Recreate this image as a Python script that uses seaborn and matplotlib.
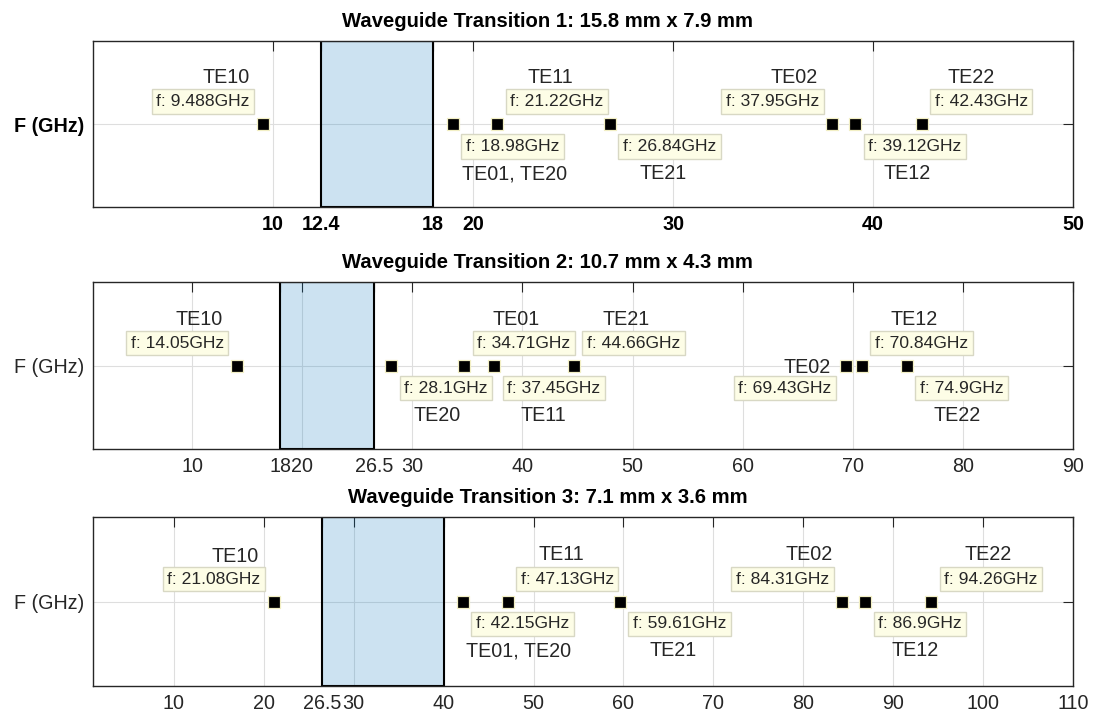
import numpy as np
import seaborn as sns
import matplotlib.pyplot as plt

# cutoff frequencies (GHz) and mode names for each waveguide
titles = ['Waveguide Transition 1: 15.8 mm x 7.9 mm',
          'Waveguide Transition 2: 10.7 mm x 4.3 mm',
          'Waveguide Transition 3: 7.1 mm x 3.6 mm']

freqs_1 = [9.488, 18.98, 21.22, 26.84, 37.95, 39.12, 42.43]
modes_1 = ['TE10', 'TE01, TE20', 'TE11', 'TE21', 'TE02', 'TE12', 'TE22']

freqs_2 = [14.05, 28.1, 34.71, 37.45, 44.66, 69.43, 70.84, 74.9]
modes_2 = ['TE10', 'TE20', 'TE01', 'TE11', 'TE21', 'TE02', 'TE12', 'TE22']

freqs_3 = [21.08, 42.15, 47.13, 59.61, 84.31, 86.9, 94.26]
modes_3 = ['TE10', 'TE01, TE20', 'TE11', 'TE21', 'TE02', 'TE12', 'TE22']

# operating band of each waveguide (GHz)
bands = [(12.4, 18), (18, 26.5), (26.5, 40)]
x_max = [50, 90, 110]

xticks_1 = [10, 12.4, 18, 20, 30, 40, 50]
xticks_2 = [10, 18, 20, 26.5, 30, 40, 50, 60, 70, 80, 90]
xticks_3 = [10, 20, 26.5, 30, 40, 50, 60, 70, 80, 90, 100, 110]

# --- layout of the datatips / labels (pixels relative to the marker) ---
tips_1 = ['ul', 'dr', 'ur', 'dr', 'ul', 'dr', 'ur']
tips_2 = ['ul', 'dr', 'ur', 'dr', 'ur', 'dl', 'ur', 'dr']
tips_3 = ['ul', 'dr', 'ur', 'dr', 'ul', 'dr', 'ur']

lab_1 = [(-37, 41), (62, -55), (53, 41), (53, -55), (-38, 41), (52, -55), (50, 41)]
lab_2 = [(-38, 41), (46, -55), (52, 41), (49, -55), (52, 41), (-39, -7), (52, 41), (50, -55)]
lab_3 = [(-38, 39), (56, -55), (54, 41), (53, -55), (-33, 41), (50, -55), (57, 41)]

tip_offsets = {'ul': ((-13, 15), 'right', 'bottom'),
               'ur': ((13, 15), 'left', 'bottom'),
               'dr': ((13, -15), 'left', 'top'),
               'dl': ((-15, -15), 'right', 'top')}

sns.set_style('white')
plt.rcParams['font.family'] = ['Liberation Sans', 'DejaVu Sans']

dark = '#262626'
fig = plt.figure(figsize=(10.95, 7.24), dpi=100)
W, H = 1095, 724
left, right = 93, 1073
rows = [(41, 207), (282, 449), (517, 686)]

data = [(freqs_1, modes_1, xticks_1, tips_1, lab_1),
        (freqs_2, modes_2, xticks_2, tips_2, lab_2),
        (freqs_3, modes_3, xticks_3, tips_3, lab_3)]

for i, (freqs, modes, xticks, tips, labs) in enumerate(data):
    top, bot = rows[i]
    ax = fig.add_axes([left / W, 1 - bot / H, (right - left) / W, (bot - top) / H])

    ax.axvspan(bands[i][0], bands[i][1], ymin=0, ymax=1,
               facecolor=(0, 0.447, 0.741, 0.2), edgecolor='black', lw=1.5, zorder=1.5)

    sns.scatterplot(x=freqs, y=np.zeros(len(freqs)), marker='s', s=78,
                    color='black', edgecolor='#f2efc4', linewidth=0.9, zorder=3, ax=ax)

    for f, m, t, (lx, ly) in zip(freqs, modes, tips, labs):
        (dx, dy), ha, va = tip_offsets[t]
        ax.annotate(f'f: {f:g}GHz', xy=(f, 0), xytext=(dx, dy), textcoords='offset pixels',
                    ha=ha, va=va, fontsize=12.6, color=dark, zorder=6,
                    bbox=dict(boxstyle='square,pad=0.26', fc='#fdfde6', ec='#d8d8c4', lw=1))
        ax.annotate(m, xy=(f, 0), xytext=(lx, ly), textcoords='offset pixels',
                    ha='center', va='baseline', fontsize=14.2, color=dark, zorder=5)

    ax.set_xlim(1, x_max[i])
    ax.set_ylim(-1, 1)
    ax.set_xticks(xticks)
    ax.set_xticklabels([f'{v:g}' for v in xticks])
    ax.set_yticks([0])
    ax.set_yticklabels(['F (GHz)'])
    ax.tick_params(direction='in', top=True, right=True, length=7, width=0.8,
                   color=dark, labelcolor=dark, labelsize=14.2, pad=6)
    ax.grid(True, color='#dedede', lw=0.8)
    ax.set_axisbelow(True)
    for sp in ax.spines.values():
        sp.set_visible(True)
        sp.set_color(dark)
        sp.set_linewidth(1.0)

    if i == 0:
        for lbl in ax.get_xticklabels() + ax.get_yticklabels():
            lbl.set_fontweight('bold')
            lbl.set_color('black')

    xc = (W / 2 - left) / (right - left)
    ax.set_title(titles[i], fontsize=14.6, fontweight='bold', x=xc, pad=10, color='black')

fig.savefig('out.png', dpi=100)
